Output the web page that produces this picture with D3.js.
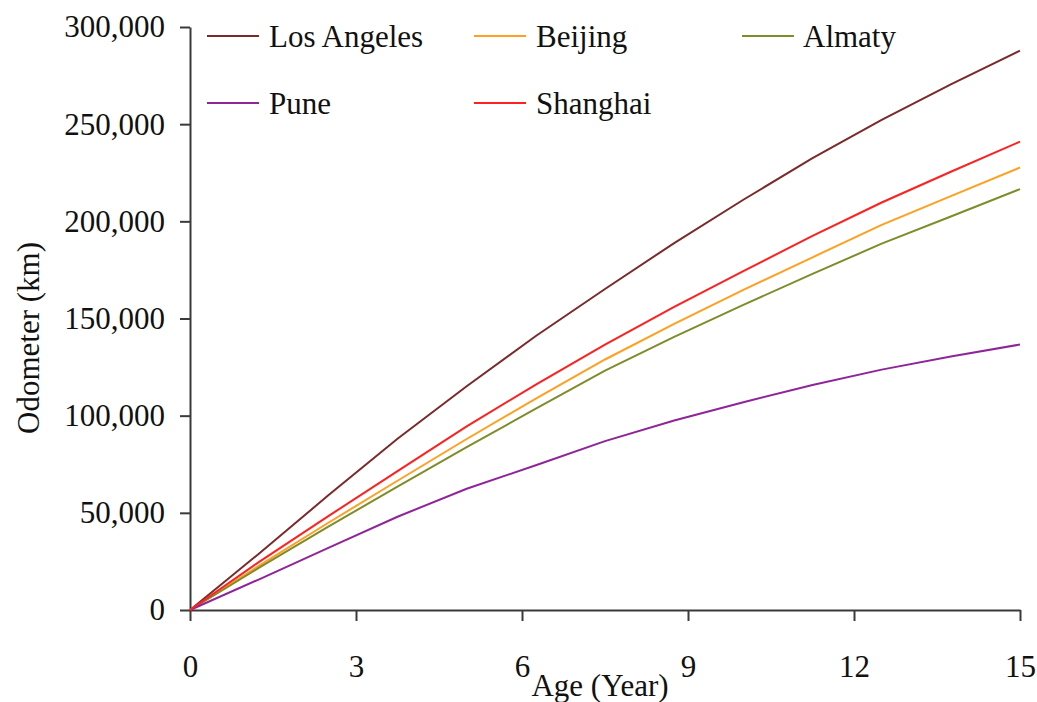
<!DOCTYPE html>
<html>
<head>
<meta charset="utf-8">
<script src="https://cdn.jsdelivr.net/npm/d3@7"></script>
<style>
  body { margin: 0; background: #fff; }
  svg text { font-family: "Liberation Serif", "Times New Roman", serif; fill: #111; }
</style>
</head>
<body>
<div id="chart"></div>
<script>
// values
const ages = [0, 1.25, 2.5, 3.75, 5, 6.25, 7.5, 8.75, 10, 11.25, 12.5, 13.75, 15];
const losAngeles = [0, 29100, 59000, 88100, 115100, 141000, 165200, 188800, 211100, 232500, 252200, 270500, 287800];
const beijing = [0, 22800, 44900, 66500, 88000, 108800, 128900, 147200, 164700, 181500, 198200, 213000, 227700];
const almaty = [0, 21800, 42900, 63500, 83800, 103600, 123200, 140500, 157000, 173000, 188500, 202500, 216600];
const pune = [0, 15800, 32000, 48000, 62400, 74500, 86900, 97500, 106900, 115800, 123700, 130500, 136600];
const shanghai = [0, 24800, 48300, 71500, 94500, 116000, 136600, 156000, 174400, 192500, 209700, 225500, 241000];

const cityNames = ["Los Angeles", "Beijing", "Almaty", "Pune", "Shanghai"];
const cityValues = [losAngeles, beijing, almaty, pune, shanghai];
const cityColors = ["#7a2a2a", "#ffa020", "#7f8c2a", "#8e2598", "#ff2020"];

const xTicks = [0, 3, 6, 9, 12, 15];
const yTicks = [0, 50000, 100000, 150000, 200000, 250000, 300000];

const width = 1037, height = 702;
const margin = {left: 190, right: 17, top: 27, bottom: 92};
const fontSize = 31;

const svg = d3.select("#chart").append("svg")
  .attr("width", width)
  .attr("height", height);

const x = d3.scaleLinear().domain([0, 15]).range([margin.left, width - margin.right]);
const y = d3.scaleLinear().domain([0, 300000]).range([height - margin.bottom, margin.top]);

// axes
const yAxis = svg.append("g")
  .attr("transform", `translate(${margin.left},0)`)
  .call(d3.axisLeft(y).tickValues(yTicks).tickFormat(d3.format(",")).tickSize(10).tickSizeOuter(0).tickPadding(15));

const xAxis = svg.append("g")
  .attr("transform", `translate(0,${height - margin.bottom})`)
  .call(d3.axisBottom(x).tickValues(xTicks).tickSize(11).tickSizeOuter(0).tickPadding(34));

[xAxis, yAxis].forEach(g => {
  g.select(".domain").attr("stroke", "#3a3a3a").attr("stroke-width", 2);
  g.selectAll(".tick line").attr("stroke", "#3a3a3a").attr("stroke-width", 2);
  g.selectAll(".tick text").style("font-size", fontSize + "px").attr("fill", "#111");
});

// lines
const line = d3.line()
  .x((d, i) => x(ages[i]))
  .y(d => y(d));

svg.append("g")
  .selectAll("path")
  .data(cityValues)
  .enter()
  .append("path")
  .attr("d", line)
  .attr("fill", "none")
  .attr("stroke", (d, i) => cityColors[i])
  .attr("stroke-width", 2);

// axis titles
svg.append("text")
  .attr("x", 600)
  .attr("y", 685)
  .attr("text-anchor", "middle")
  .attr("dominant-baseline", "central")
  .style("font-size", fontSize + "px")
  .text("Age (Year)");

svg.append("text")
  .attr("transform", "translate(28,338) rotate(-90)")
  .attr("text-anchor", "middle")
  .attr("dominant-baseline", "central")
  .style("font-size", fontSize + "px")
  .text("Odometer (km)");

// legend, two rows of three
const legendCols = [207, 474, 742];
const legendRows = [36, 103];
const legend = svg.append("g")
  .selectAll("g")
  .data(cityNames)
  .enter()
  .append("g")
  .attr("transform", (d, i) => `translate(${legendCols[i % 3]},${legendRows[Math.floor(i / 3)]})`);

legend.append("line")
  .attr("x1", 0).attr("x2", 52)
  .attr("y1", 0).attr("y2", 0)
  .attr("stroke", (d, i) => cityColors[i])
  .attr("stroke-width", 2);

legend.append("text")
  .attr("x", (d, i) => i % 3 === 2 ? 61 : 62)
  .attr("y", 0)
  .attr("dominant-baseline", "central")
  .style("font-size", fontSize + "px")
  .text(d => d);
</script>
</body>
</html>
